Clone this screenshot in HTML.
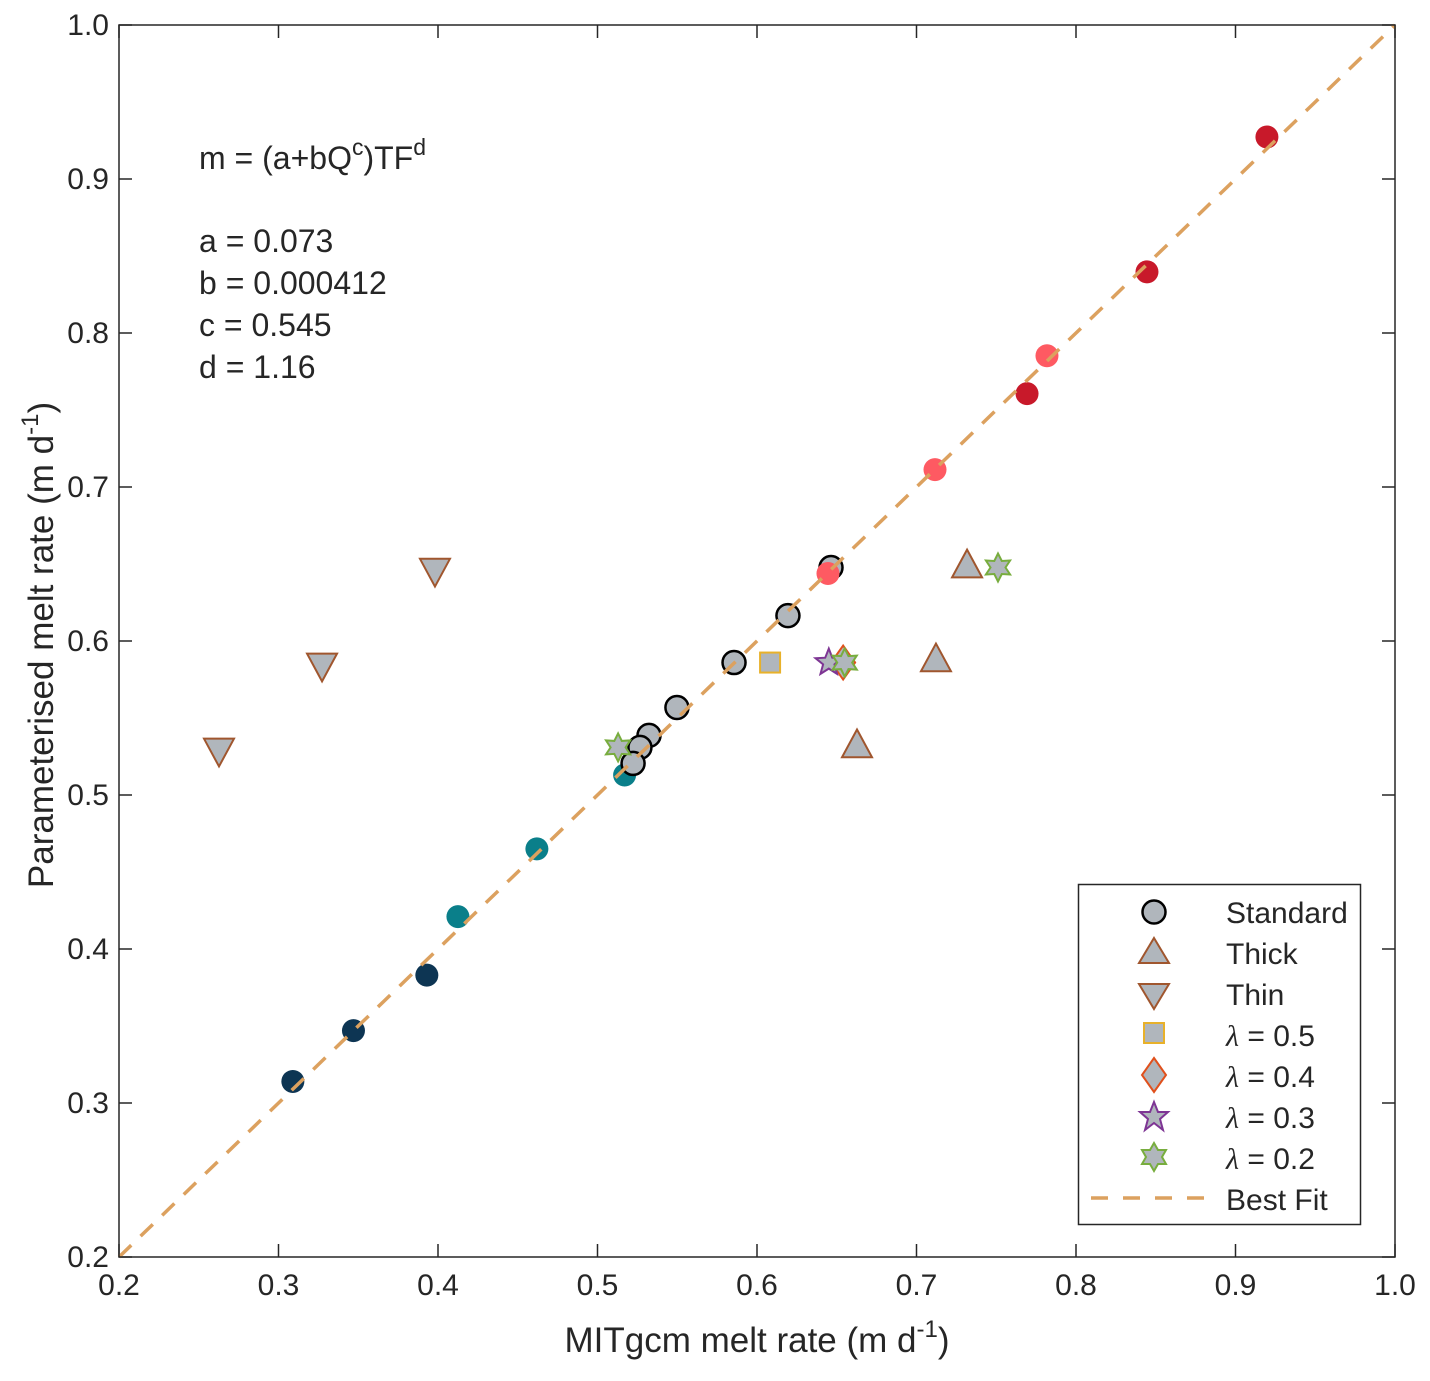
<!DOCTYPE html>
<html><head><meta charset="utf-8"><style>
html,body{margin:0;padding:0;background:#fff;}
text{font-family:"Liberation Sans",Arial,sans-serif;fill:#262626;}
</style></head><body>
<svg id="chart" width="1430" height="1376" viewBox="0 0 1430 1376" xmlns="http://www.w3.org/2000/svg">
<g id="axes"></g>
<g id="marks"></g>
<g id="fg"></g>
</svg>
<script>
const xTicks=[0.2,0.3,0.4,0.5,0.6,0.7,0.8,0.9,1.0];
const yTicks=[0.2,0.3,0.4,0.5,0.6,0.7,0.8,0.9,1.0];
const tickLabels=["0.2","0.3","0.4","0.5","0.6","0.7","0.8","0.9","1.0"];
const navyX=[0.309,0.347,0.393], navyY=[0.314,0.347,0.383];
const tealX=[0.517,0.462,0.4125], tealY=[0.513,0.465,0.421];
const stdX=[0.6464,0.6194,0.5856,0.5498,0.5323,0.5266,0.5223], stdY=[0.6477,0.6165,0.586,0.5568,0.5387,0.5309,0.5205];
const pinkX=[0.6445,0.7116,0.7818], pinkY=[0.6438,0.7113,0.7852];
const redX=[0.7693,0.8445,0.9197], redY=[0.7606,0.8397,0.9273];
const thickX=[0.7317,0.7122,0.6627], thickY=[0.6496,0.5886,0.5328];
const thinX=[0.3981,0.3273,0.2627], thinY=[0.6451,0.5835,0.5283];
const l5X=[0.6082], l5Y=[0.586];
const l4X=[0.654], l4Y=[0.586];
const l3X=[0.645], l3Y=[0.586];
const l2X=[0.655,0.7511,0.5129], l2Y=[0.586,0.6477,0.5309];

const X0=119,X1=1395,Y0=1257,Y1=25;
const sx=v=>X0+(v-0.2)/0.8*(X1-X0);
const sy=v=>Y0-(v-0.2)/0.8*(Y0-Y1);
const NS="http://www.w3.org/2000/svg";
function mk(tag,attrs,parent){const e=document.createElementNS(NS,tag);for(const k in attrs)e.setAttribute(k,attrs[k]);parent.appendChild(e);return e;}
const axes=document.getElementById('axes'),marks=document.getElementById('marks'),fg=document.getElementById('fg');
const GRAY="#b0b6bc";
xTicks.forEach((t,i)=>{const x=sx(t);
 let l=mk('line',{x1:x,x2:x,y1:Y0,y2:Y0-13,stroke:'#262626','stroke-width':1.5},axes);
 
 l=mk('line',{x1:x,x2:x,y1:Y1,y2:Y1+13,stroke:'#262626','stroke-width':1.5},axes);
 
 const tx=mk('text',{x:x,y:Y0+38,'font-size':30,'text-anchor':'middle'},axes);tx.textContent=tickLabels[i];
 
});
yTicks.forEach((t,i)=>{const y=sy(t);
 let l=mk('line',{x1:X0,x2:X0+13,y1:y,y2:y,stroke:'#262626','stroke-width':1.5},axes);
 
 l=mk('line',{x1:X1,x2:X1-13,y1:y,y2:y,stroke:'#262626','stroke-width':1.5},axes);
 
 const tx=mk('text',{x:X0-10,y:y+10,'font-size':30,'text-anchor':'end'},axes);tx.textContent=tickLabels[i];
 
});
function circle(x,y,fill,stroke,parent){return mk('circle',{cx:x,cy:y,r:11.5,fill:fill,stroke:stroke||'none','stroke-width':2.5},parent);}
function tri(x,y,up,stroke,parent,s){s=s||15;const d=up?`M${x},${y-s} L${x+s},${y+s*0.85} L${x-s},${y+s*0.85}Z`:`M${x},${y+s} L${x+s},${y-s*0.85} L${x-s},${y-s*0.85}Z`;return mk('path',{d:d,fill:GRAY,stroke:stroke,'stroke-width':2},parent);}
function square(x,y,parent){return mk('rect',{x:x-10,y:y-10,width:20,height:20,fill:GRAY,stroke:'#e8b12a','stroke-width':2},parent);}
function diamond(x,y,parent){return mk('path',{d:`M${x},${y-17} L${x+12},${y} L${x},${y+17} L${x-12},${y}Z`,fill:GRAY,stroke:'#e0501c','stroke-width':2},parent);}
function star5(x,y,parent){let p=[];for(let k=0;k<10;k++){const r=k%2?6:14;const a=-Math.PI/2+k*Math.PI/5;p.push((x+r*Math.cos(a)).toFixed(1)+','+(y+r*Math.sin(a)).toFixed(1));}return mk('polygon',{points:p.join(' '),fill:GRAY,stroke:'#7e3594','stroke-width':2},parent);}
function hex(x,y,parent){let p=[];for(let k=0;k<12;k++){const r=k%2?7.5:14;const a=-Math.PI/2+k*Math.PI/6;p.push((x+r*Math.cos(a)).toFixed(1)+','+(y+r*Math.sin(a)).toFixed(1));}return mk('polygon',{points:p.join(' '),fill:GRAY,stroke:'#78ad3e','stroke-width':2},parent);}
function series(xs,ys,fn,name){xs.forEach((v,i)=>{const e=fn(sx(v),sy(ys[i]));});}
series(navyX,navyY,(x,y)=>circle(x,y,'#0d3553',null,marks),'navy-point');
series(tealX,tealY,(x,y)=>circle(x,y,'#0a7f8a',null,marks),'teal-point');
series(stdX,stdY,(x,y)=>circle(x,y,GRAY,'#000',marks),'standard-point');
series(pinkX,pinkY,(x,y)=>circle(x,y,'#fe5a62',null,marks),'pink-point');
series(redX,redY,(x,y)=>circle(x,y,'#c8192a',null,marks),'red-point');
series(thickX,thickY,(x,y)=>tri(x,y,true,'#a0562e',marks),'thick-point');
series(thinX,thinY,(x,y)=>tri(x,y,false,'#a0562e',marks),'thin-point');
series(l5X,l5Y,(x,y)=>square(x,y,marks),'lambda-0.5-point');
series(l4X,l4Y,(x,y)=>diamond(x,y,marks),'lambda-0.4-point');
series(l3X,l3Y,(x,y)=>star5(x,y,marks),'lambda-0.3-point');
series(l2X,l2Y,(x,y)=>hex(x,y,marks),'lambda-0.2-point');
let fl=mk('line',{x1:sx(0.2),y1:sy(0.2),x2:sx(1.0),y2:sy(1.0),stroke:'#dca15f','stroke-width':3.5,'stroke-dasharray':'17,13'},fg);

let fr=mk('rect',{x:X0,y:Y1,width:X1-X0,height:Y0-Y1,fill:'none',stroke:'#262626','stroke-width':1.5},fg);

</script>
<svg style="position:absolute;left:0;top:0" width="1430" height="1376">
<text x="199" y="169" font-size="32" fill="#000">m = (a+bQ<tspan dy="-14" font-size="23">c</tspan><tspan dy="14">)TF</tspan><tspan dy="-14" font-size="23">d</tspan></text>
<text x="199" y="252" font-size="32">a = 0.073</text>
<text x="199" y="294" font-size="32">b = 0.000412</text>
<text x="199" y="336" font-size="32">c = 0.545</text>
<text x="199" y="378" font-size="32">d = 1.16</text>
<text x="757" y="1352" font-size="35" text-anchor="middle">MITgcm melt rate (m d<tspan dy="-15" font-size="24">-1</tspan><tspan dy="15">)</tspan></text>
<text transform="translate(53,645) rotate(-90)" font-size="35" text-anchor="middle">Parameterised melt rate (m d<tspan dy="-15" font-size="24">-1</tspan><tspan dy="15">)</tspan></text>
<g>
<rect x="1078.5" y="884.5" width="282" height="340" fill="#fff" stroke="#262626" stroke-width="1.5"/>
<circle cx="1154" cy="912" r="11.5" fill="#b0b6bc" stroke="#000" stroke-width="2.5"/>
<path d="M1154,938 L1169,963 L1139,963Z" fill="#b0b6bc" stroke="#a0562e" stroke-width="2"/>
<path d="M1154,1009 L1169,984 L1139,984Z" fill="#b0b6bc" stroke="#a0562e" stroke-width="2"/>
<rect x="1144" y="1023" width="20" height="20" fill="#b0b6bc" stroke="#e8b12a" stroke-width="2"/>
<path d="M1154,1058 L1166,1075 L1154,1092 L1142,1075Z" fill="#b0b6bc" stroke="#e0501c" stroke-width="2"/>
<polygon points="1154,1102 1158,1112 1168,1112 1160,1119 1163,1130 1154,1123 1145,1130 1148,1119 1140,1112 1150,1112" fill="#b0b6bc" stroke="#7e3594" stroke-width="2"/>
<polygon points="1154,1143 1158,1150 1166,1150 1162,1157 1166,1164 1158,1164 1154,1171 1150,1164 1142,1164 1146,1157 1142,1150 1150,1150" fill="#b0b6bc" stroke="#78ad3e" stroke-width="2"/>
<line x1="1091" y1="1198" x2="1204" y2="1198" stroke="#dca15f" stroke-width="3.5" stroke-dasharray="17,15"/>
<text x="1226" y="923" font-size="30" fill="#000">Standard</text>
<text x="1226" y="964" font-size="30" fill="#000">Thick</text>
<text x="1226" y="1005" font-size="30" fill="#000">Thin</text>
<text x="1226" y="1046" font-size="30" fill="#000"><tspan font-family="Liberation Serif" font-style="italic">λ</tspan> = 0.5</text>
<text x="1226" y="1087" font-size="30" fill="#000"><tspan font-family="Liberation Serif" font-style="italic">λ</tspan> = 0.4</text>
<text x="1226" y="1128" font-size="30" fill="#000"><tspan font-family="Liberation Serif" font-style="italic">λ</tspan> = 0.3</text>
<text x="1226" y="1169" font-size="30" fill="#000"><tspan font-family="Liberation Serif" font-style="italic">λ</tspan> = 0.2</text>
<text x="1226" y="1210" font-size="30" fill="#000">Best Fit</text>
</g>
</svg>
</body></html>
